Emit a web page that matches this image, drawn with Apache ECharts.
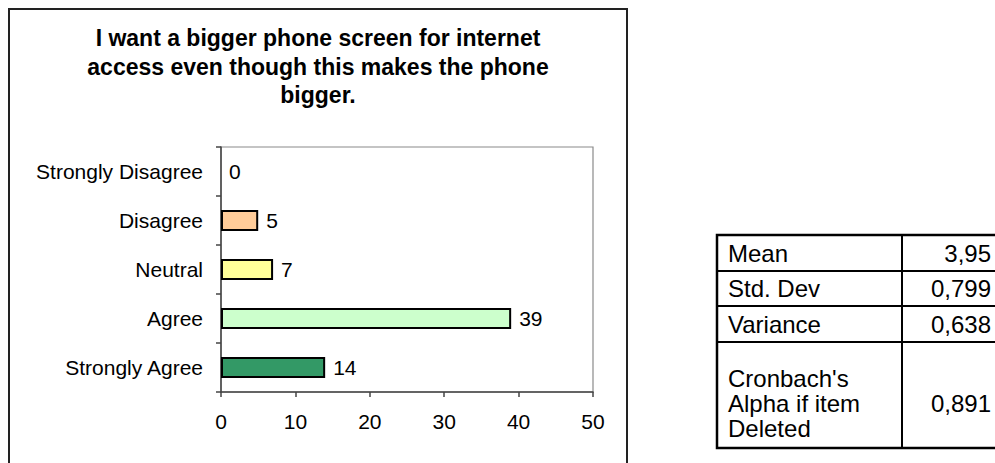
<!DOCTYPE html>
<html><head><meta charset="utf-8">
<script src="https://cdn.jsdelivr.net/npm/echarts@6/dist/echarts.min.js"></script>
<style>html,body{margin:0;padding:0;background:#fff}#c{width:995px;height:463px}</style>
</head><body><div id="c"></div>
<script>
// ---- data ----
const titleLines = ['I want a bigger phone screen for internet', 'access even though this makes the phone', 'bigger.'];
const categories = ['Strongly Disagree', 'Disagree', 'Neutral', 'Agree', 'Strongly Agree'];
const counts = [0, 5, 7, 39, 14];
const statLabels = ['Mean', 'Std. Dev', 'Variance', "Cronbach's\nAlpha if item\nDeleted"];
const statValues = ['3,95', '0,799', '0,638', '0,891'];
const xMin = 0, xMax = 50, xStep = 10;

// ---- styles ----
const barColors = ['#FFCC99', '#FFCC99', '#FFFF99', '#CCFFCC', '#339966'];
const FONT = '"Liberation Sans", Arial, Helvetica, sans-serif';

const chart = echarts.init(document.getElementById('c'), null, {renderer: 'svg'});

// table layout
const tblLeft = 717, tblDiv = 902, tblRight = 1002;
const rowEdges = [235, 271, 306, 342, 448];
const tableGraphics = [];
tableGraphics.push({type: 'rect', shape: {x: tblLeft, y: rowEdges[0], width: tblRight - tblLeft, height: rowEdges[4] - rowEdges[0]},
  style: {fill: 'none', stroke: '#000', lineWidth: 2.5}, silent: true});
for (let i = 1; i < rowEdges.length - 1; i++) {
  tableGraphics.push({type: 'line', shape: {x1: tblLeft, y1: rowEdges[i], x2: tblRight, y2: rowEdges[i]},
    style: {stroke: '#000', lineWidth: 2}, silent: true});
}
tableGraphics.push({type: 'line', shape: {x1: tblDiv, y1: rowEdges[0], x2: tblDiv, y2: rowEdges[4]},
  style: {stroke: '#000', lineWidth: 2}, silent: true});
statLabels.forEach((lab, i) => {
  let cy = (rowEdges[i] + rowEdges[i + 1]) / 2;
  if (i === 3) cy = 403;
  tableGraphics.push({type: 'text', x: 728, y: cy, silent: true,
    style: {text: lab, font: '24px ' + FONT, fill: '#000', align: 'left', verticalAlign: 'middle', lineHeight: 25}});
  tableGraphics.push({type: 'text', x: 991, y: cy, silent: true,
    style: {text: statValues[i], font: '24px ' + FONT, fill: '#000', align: 'right', verticalAlign: 'middle'}});
});

chart.setOption({
  animation: false,
  backgroundColor: '#fff',
  grid: {left: 221, right: 995 - 593, top: 147, bottom: 463 - 392, show: true, borderColor: '#8a8a8a', borderWidth: 1.2, containLabel: false},
  xAxis: {
    type: 'value', min: xMin, max: xMax, interval: xStep,
    axisLine: {show: true, lineStyle: {color: '#444', width: 1.5}},
    axisTick: {show: true, length: 5, lineStyle: {color: '#444', width: 1.5}},
    splitLine: {show: false},
    axisLabel: {color: '#000', fontSize: 21, fontFamily: FONT, margin: 19}
  },
  yAxis: {
    type: 'category', data: categories, inverse: true,
    axisLine: {show: true, lineStyle: {color: '#444', width: 1.5}},
    axisTick: {show: true, length: 5, interval: 0, alignWithLabel: false, lineStyle: {color: '#444', width: 1.5}},
    axisLabel: {color: '#000', fontSize: 21, fontFamily: FONT, margin: 18}
  },
  series: [{
    type: 'bar',
    data: counts.map((v, i) => ({value: v, itemStyle: {color: barColors[i], borderWidth: v === 0 ? 0 : 2}})),
    barWidth: 21,
    itemStyle: {borderColor: '#000', borderWidth: 2},
    label: {show: true, position: 'right', distance: 8, color: '#000', fontSize: 21, fontFamily: FONT}
  }],
  graphic: [
    {type: 'rect', shape: {x: 9, y: 9, width: 618, height: 480}, style: {fill: 'none', stroke: '#222', lineWidth: 2}, silent: true, z: 100},
    {type: 'text', x: 318, y: 24, silent: true,
      style: {text: titleLines.join('\n'), font: 'bold 23px ' + FONT, fill: '#000', align: 'center', verticalAlign: 'top', lineHeight: 28.5}},
    ...tableGraphics
  ]
});
</script></body></html>
